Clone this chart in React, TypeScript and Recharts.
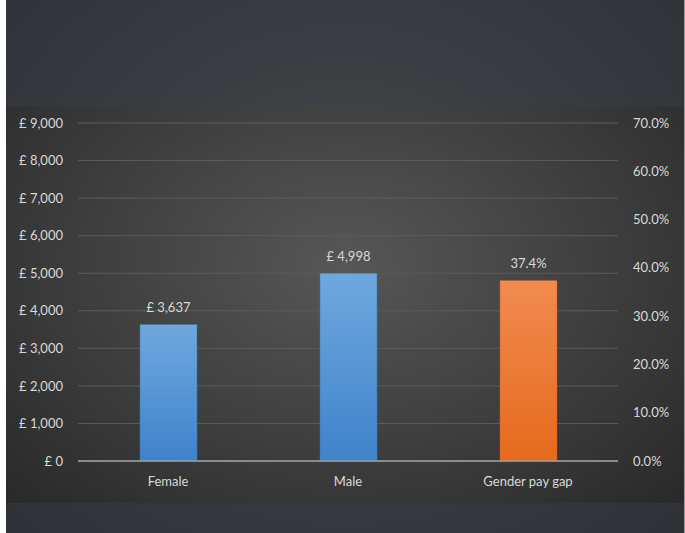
import React from 'react'
import { BarChart, Bar, XAxis, YAxis, CartesianGrid, LabelList } from 'recharts'

const categories = ['Female', 'Male', 'Gender pay gap']
const salary = [3637, 4998, null]
const payGap = [null, null, 0.374]
const salaryTicks = [0, 1000, 2000, 3000, 4000, 5000, 6000, 7000, 8000, 9000]
const gapTicks = [0, 0.1, 0.2, 0.3, 0.4, 0.5, 0.6, 0.7]

const data = categories.map((name, i) => ({ name, salary: salary[i], gap: payGap[i] }))

const FONT = 'Lato, "Open Sans", sans-serif'
const TEXT = '#d9d9d9'

const fmtPound = (v: any) => (v == null ? '' : `£ ${Number(v).toLocaleString('en-GB')}`)
const fmtPct = (v: any) => (v == null ? '' : `${(Number(v) * 100).toFixed(1)}%`)

const App = () => {
  return (
    <div
      style={{
        position: 'fixed',
        left: 0,
        top: 0,
        width: 685,
        height: 533,
        background: '#fff',
        fontFamily: FONT,
      }}
    >
      <div
        style={{
          position: 'absolute',
          left: 6,
          top: 0,
          width: 678,
          height: 533,
          borderRight: '1px solid #9a9a9a',
          background: 'radial-gradient(ellipse at 50% 45%, #4a4d50 0%, #3a3e42 45%, #2e3236 100%)',
        }}
      />
      <div
        style={{
          position: 'absolute',
          left: 6,
          top: 107,
          width: 678,
          height: 396,
          background: 'radial-gradient(ellipse at 50% 40%, #575757 0%, #404040 50%, #292929 100%)',
        }}
      >
        <BarChart
          width={678}
          height={396}
          data={data}
          margin={{ top: 16, right: 0, bottom: 0, left: 0 }}
          barSize={57}
          barGap={-57}
        >
          <defs>
            <linearGradient id="blueFill" x1="0" y1="0" x2="0" y2="1">
              <stop offset="0%" stopColor="#6fa8de" />
              <stop offset="100%" stopColor="#3f83cb" />
            </linearGradient>
            <linearGradient id="orangeFill" x1="0" y1="0" x2="0" y2="1">
              <stop offset="0%" stopColor="#f18b50" />
              <stop offset="100%" stopColor="#e66a1c" />
            </linearGradient>
          </defs>
          <CartesianGrid vertical={false} stroke="#5c5c5c" strokeWidth={1} yAxisId="left" />
          <XAxis
            dataKey="name"
            axisLine={{ stroke: '#a0a0a0', strokeWidth: 1.5 }}
            tickLine={false}
            tickMargin={10}
            height={42}
            tick={{ fill: TEXT, fontSize: 13, fontFamily: FONT }}
          />
          <YAxis
            yAxisId="left"
            orientation="left"
            width={72}
            domain={[0, 9000]}
            ticks={salaryTicks}
            tickFormatter={fmtPound}
            axisLine={false}
            tickLine={false}
            tickSize={0}
            tickMargin={15}
            tick={{ fill: TEXT, fontSize: 13, fontFamily: FONT }}
          />
          <YAxis
            yAxisId="right"
            orientation="right"
            width={66}
            domain={[0, 0.7]}
            ticks={gapTicks}
            tickFormatter={fmtPct}
            axisLine={false}
            tickLine={false}
            tickSize={0}
            tickMargin={15}
            tick={{ fill: TEXT, fontSize: 13, fontFamily: FONT }}
          />
          <Bar yAxisId="left" dataKey="salary" fill="url(#blueFill)" stroke="#3a74b4" strokeWidth={0.5} isAnimationActive={false}>
            <LabelList dataKey="salary" position="top" offset={12} formatter={fmtPound} fill={TEXT} fontSize={13} fontFamily={FONT} />
          </Bar>
          <Bar yAxisId="right" dataKey="gap" fill="url(#orangeFill)" stroke="#c95a18" strokeWidth={0.5} isAnimationActive={false}>
            <LabelList dataKey="gap" position="top" offset={12} formatter={fmtPct} fill={TEXT} fontSize={13} fontFamily={FONT} />
          </Bar>
        </BarChart>
      </div>
    </div>
  )
}

export default App
